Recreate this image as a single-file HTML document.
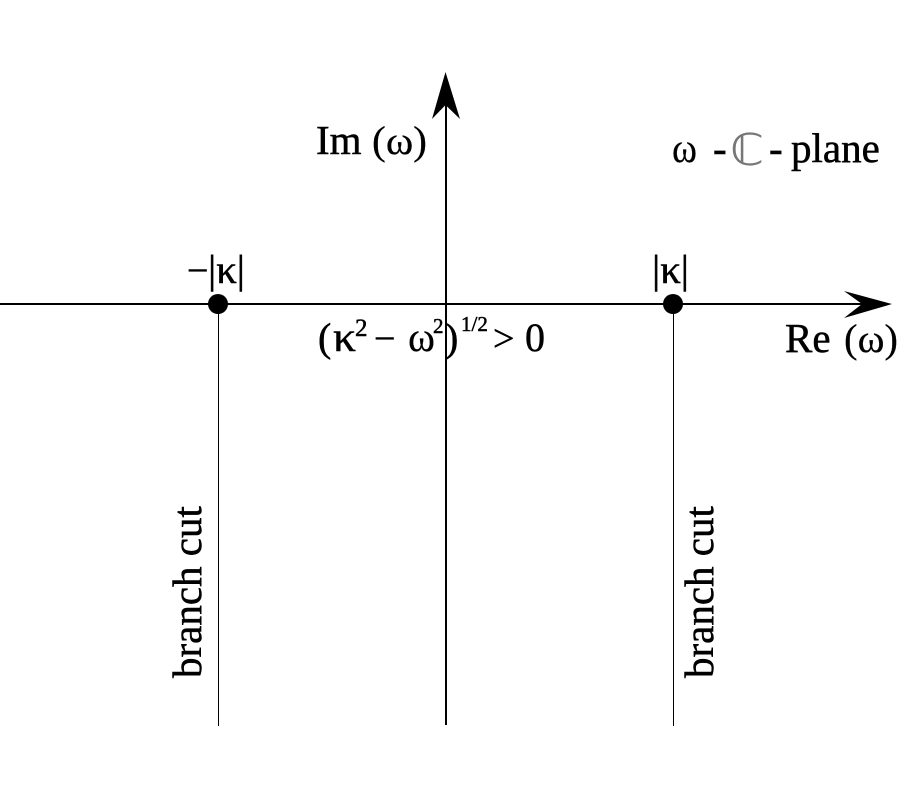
<!DOCTYPE html>
<html>
<head>
<meta charset="utf-8">
<style>
html,body{margin:0;padding:0;background:#fff}
svg{display:block}
text{font-family:"Liberation Serif","DejaVu Serif",serif;fill:#000;stroke:#000;stroke-width:.5px}
</style>
</head>
<body>
<svg width="900" height="800" viewBox="0 0 900 800" xmlns="http://www.w3.org/2000/svg">
<rect width="900" height="800" fill="#fff"/>
<line x1="446" y1="100" x2="446" y2="725" stroke="#000" stroke-width="2"/>
<line x1="0" y1="304" x2="870" y2="304" stroke="#000" stroke-width="2"/>
<line x1="218.5" y1="304" x2="218.5" y2="726" stroke="#000" stroke-width="1"/>
<line x1="673.5" y1="304" x2="673.5" y2="726" stroke="#000" stroke-width="1"/>
<polygon points="445.5,72 460,119 445.5,105 432,119" fill="#000"/>
<polygon points="892,304 844,291 862,304 844,318" fill="#000"/>
<circle cx="218" cy="304" r="10" fill="#000"/>
<circle cx="673" cy="304" r="10" fill="#000"/>

<text x="316" y="154" font-size="41">Im</text>
<text x="372" y="154" font-size="40" textLength="55" lengthAdjust="spacingAndGlyphs" style="stroke-width:.2px">(ω)</text>

<text x="672" y="162" font-size="42" textLength="25" lengthAdjust="spacingAndGlyphs" style="stroke-width:.2px">ω</text>
<text x="713" y="162" font-size="41">-</text>
<text x="730" y="165" font-size="44" style="fill:#777;stroke:none;font-family:'DejaVu Sans',sans-serif" textLength="34" lengthAdjust="spacingAndGlyphs">ℂ</text>
<text x="769" y="162" font-size="41">-</text>
<text x="791" y="162" font-size="41">plane</text>

<text x="187" y="283" font-size="38">−</text>
<text x="208" y="283" font-size="40" textLength="37" lengthAdjust="spacingAndGlyphs">|κ|</text>
<text x="652" y="283" font-size="40" textLength="37" lengthAdjust="spacingAndGlyphs">|κ|</text>

<text x="318" y="351" font-size="40">(</text>
<text x="333" y="351" font-size="42" textLength="23" lengthAdjust="spacingAndGlyphs">κ</text>
<text x="355" y="336" font-size="25">2</text>
<text x="374" y="351" font-size="38">−</text>
<text x="408" y="351" font-size="42" textLength="27" lengthAdjust="spacingAndGlyphs" style="stroke-width:.2px">ω</text>
<text x="433" y="333" font-size="21">2</text>
<text x="445" y="351" font-size="40">)</text>
<text x="461" y="331" font-size="21">1/2</text>
<text x="493" y="351" font-size="38">&gt;</text>
<text x="525" y="351" font-size="40">0</text>

<text x="785" y="352" font-size="41">Re</text>
<text x="844" y="352" font-size="40" textLength="54" lengthAdjust="spacingAndGlyphs" style="stroke-width:.2px">(ω)</text>

<text transform="translate(201,678) rotate(-90)" font-size="41">branch cut</text>
<text transform="translate(713,678) rotate(-90)" font-size="41">branch cut</text>
</svg>
</body>
</html>
